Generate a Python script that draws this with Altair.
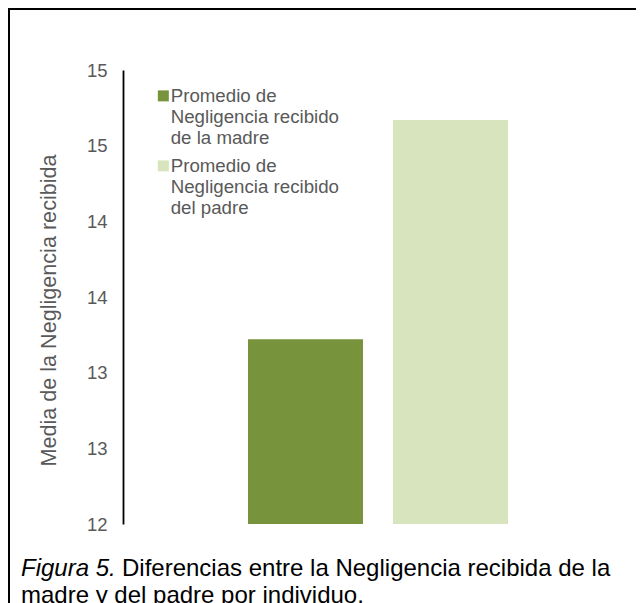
import altair as alt
import pandas as pd

# ---- data ----
legend_lines_madre = ["Promedio de", "Negligencia recibido", "de la madre"]
legend_lines_padre = ["Promedio de", "Negligencia recibido", "del padre"]
series = ["\n".join(legend_lines_madre), "\n".join(legend_lines_padre)]
values = [13.22, 14.67]
colors = ["#77933C", "#D7E4BD"]
y_ticks = [12, 12.5, 13, 13.5, 14, 14.5, 15]
y_domain = [12, 15]
y_title = "Media de la Negligencia recibida"
caption_italic = "Figura 5."
caption_line1 = "Diferencias entre la Negligencia recibida de la"
caption_line2 = "madre y del padre por individuo."

FONT = "Liberation Sans"
W, H = 510, 454
PAD_L, PAD_T, PAD_R, PAD_B = 115, 62, 3, 84

df = pd.DataFrame({"serie": series, "valor": values})

bars = alt.Chart(df).mark_bar().encode(
    x=alt.X("serie:N", sort=series, axis=None,
            scale=alt.Scale(paddingInner=0.207, paddingOuter=0.862)),
    y=alt.Y("valor:Q",
            scale=alt.Scale(domain=y_domain, zero=False, nice=False),
            axis=alt.Axis(values=y_ticks, format=".0f", title=y_title, grid=False,
                          ticks=False, labelPadding=16, labelFontSize=18.5,
                          labelColor="#595959", labelFont=FONT,
                          titleFont=FONT, titleFontSize=21.6, titleFontWeight="normal",
                          titleColor="#595959", titlePadding=26, titleY=240,
                          domainColor="#000000", domainWidth=1.8)),
    y2=alt.datum(12),
    color=alt.Color("serie:N", sort=series,
                    scale=alt.Scale(domain=series, range=colors),
                    legend=alt.Legend(orient="none", legendX=29, legendY=8, title=None,
                                      symbolType="M-0.64,0.55H1.36V2.55H-0.64Z", symbolSize=121,
                                      symbolStrokeWidth=0, labelFont=FONT,
                                      labelFontSize=18.7, labelColor="#595959",
                                      labelLimit=400, labelOffset=0, rowPadding=0,
                                      labelBaseline="top",
                                      labelExpr="split(datum.label, '\\n')")),
)

one = pd.DataFrame({"k": [0]})
cap_italic = alt.Chart(one).mark_text(font=FONT, fontSize=24, fontStyle="italic",
                                      align="left", baseline="alphabetic", color="#000000").encode(
    x=alt.value(-102), y=alt.value(506), text=alt.value(caption_italic))
cap1 = alt.Chart(one).mark_text(font=FONT, fontSize=24, align="left",
                                baseline="alphabetic", color="#000000").encode(
    x=alt.value(-102 + 101), y=alt.value(506), text=alt.value(caption_line1))
cap2 = alt.Chart(one).mark_text(font=FONT, fontSize=24, align="left",
                                baseline="alphabetic", color="#000000").encode(
    x=alt.value(-102), y=alt.value(533), text=alt.value(caption_line2))

frame = alt.Chart(one).mark_rect(fill=None, stroke="#000000", strokeWidth=2).encode(
    x=alt.value(-PAD_L + 1), x2=alt.value(W + 60),
    y=alt.value(-PAD_T + 1), y2=alt.value(H + 120))

chart = alt.layer(frame, bars, cap_italic, cap1, cap2).properties(
    width=W, height=H,
    autosize=alt.AutoSizeParams(type="none"),
    padding={"left": PAD_L, "top": PAD_T, "right": PAD_R, "bottom": PAD_B},
).configure_view(stroke=None)

chart.save("out.html", embed_options={"renderer": "svg", "actions": False})
